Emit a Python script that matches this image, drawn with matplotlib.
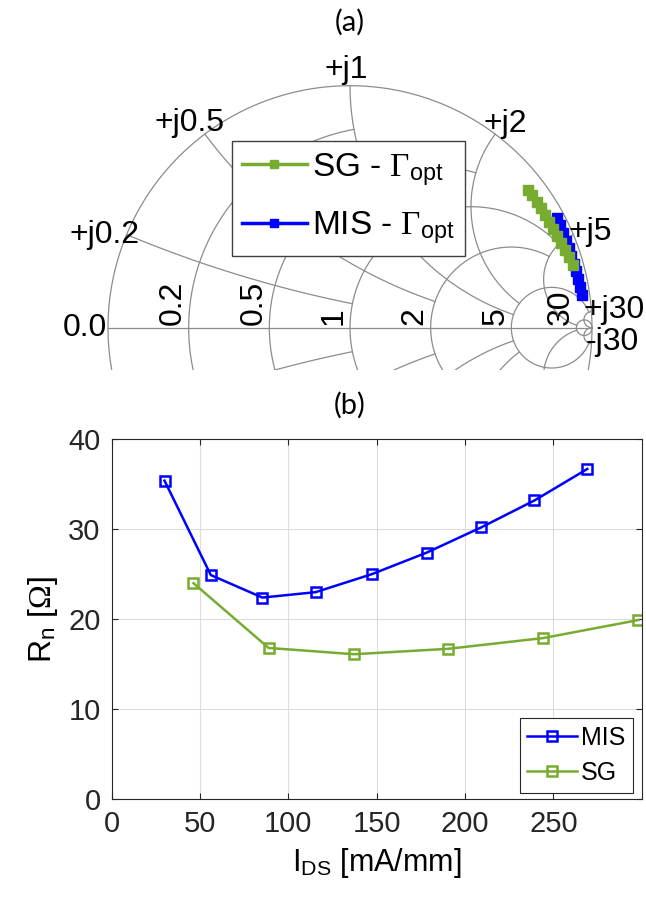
import numpy as np
import matplotlib.pyplot as plt

plt.rcParams['font.family'] = ['Liberation Sans', 'DejaVu Sans']
plt.rcParams['mathtext.fontset'] = 'custom'
plt.rcParams['mathtext.rm'] = 'Liberation Serif'
plt.rcParams['mathtext.it'] = 'Liberation Serif:italic'
plt.rcParams['mathtext.sf'] = 'Liberation Sans'

# (a) optimum source reflection coefficient
sg_gamma_re = [0.736, 0.753, 0.772, 0.790, 0.807, 0.823, 0.839, 0.855, 0.872, 0.888, 0.904, 0.923]
sg_gamma_im = [0.569, 0.547, 0.521, 0.493, 0.466, 0.437, 0.409, 0.380, 0.352, 0.323, 0.294, 0.260]
mis_gamma_re = [0.854, 0.867, 0.880, 0.892, 0.904, 0.915, 0.926, 0.935, 0.944, 0.951, 0.957]
mis_gamma_im = [0.454, 0.423, 0.392, 0.360, 0.329, 0.297, 0.265, 0.233, 0.201, 0.168, 0.134]

# smith grid: circle values and how far each one is drawn
grid_values = [30, 5, 2, 1, 0.5, 0.2]
grid_limits = [np.inf, 30, 5, 5, 2, 1]
r_labels = ['30', '5', '2', '1', '0.5', '0.2']
x_labels = ['+j0.2', '+j0.5', '+j1', '+j2', '+j5', '+j30', '-j30']
x_label_values = [0.2, 0.5, 1, 2, 5, 30, -30]

# (b) noise resistance vs drain current
mis_ids = [29.9, 56.1, 85.3, 115.4, 147.2, 178.3, 209.1, 239.3, 269.2]
mis_rn = [35.4, 24.9, 22.4, 23.0, 25.0, 27.4, 30.2, 33.2, 36.7]
sg_ids = [46.3, 88.8, 137.1, 190.4, 244.4, 298.1]
sg_rn = [24.0, 16.8, 16.1, 16.7, 17.9, 19.9]

GREEN = '#77AC30'
BLUE = '#0000FF'
GRID = '#8c8c8c'
W, H = 646, 905


def gamma(z):
    return (z - 1) / (z + 1)


def sweep(limit, lo):
    if np.isinf(limit):
        t = np.linspace(0 if lo == 0 else -np.pi / 2 + 1e-4, np.pi / 2 - 1e-4, 4000)
        return np.tan(t)
    return np.linspace(lo * limit, limit, 4000)


fig = plt.figure(figsize=(W / 100, H / 100), dpi=100)

# ---------- (a) ----------
cx, cy, R = 350, 327.7, 242.0
top, bot = 30, 370
ax_s = fig.add_axes([0, 1 - bot / H, 1, (bot - top) / H])
ax_s.set_xlim(-cx / R, (W - cx) / R)
ax_s.set_ylim((cy - bot) / R, (cy - top) / R)
ax_s.axis('off')

kw = dict(color=GRID, lw=0.9, zorder=1)
th = np.linspace(0, 2 * np.pi, 800)
ax_s.plot(np.cos(th), np.sin(th), **kw)
ax_s.plot([-1, 1], [0, 0], **kw)
for v, lim in zip(grid_values, grid_limits):
    # resistance circle
    g = gamma(v + 1j * sweep(lim, -1))
    ax_s.plot(g.real, g.imag, **kw)
    # reactance arcs
    for s in (1, -1):
        g = gamma(sweep(lim, 0) + 1j * s * v)
        ax_s.plot(g.real, g.imag, **kw)

for v, lab in zip(grid_values, r_labels):
    ax_s.annotate(lab, ((v - 1) / (v + 1), 0), xytext=(-8, 3),
                  textcoords='offset pixels', rotation=90, rotation_mode='anchor',
                  ha='left', va='baseline', fontsize=23, zorder=2)

x_offsets = [(-22, 0), (-15, 11), (-4, 16), (10, 10), (17, 3), (23, 2), (21, 2)]
for v, lab, off in zip(x_label_values, x_labels, x_offsets):
    g = gamma(1j * v)
    ax_s.annotate(lab, (g.real, g.imag), xytext=off, textcoords='offset pixels',
                  ha='center', va='center', fontsize=23, zorder=2,
                  annotation_clip=False)
ax_s.annotate('0.0', (-1, 0), xytext=(-1, 0), textcoords='offset pixels',
              ha='right', va='center', fontsize=23, annotation_clip=False)

mis_line, = ax_s.plot(mis_gamma_re, mis_gamma_im, '-s', color=BLUE, lw=2.5,
                      ms=6.5, mfc=BLUE, mec=BLUE, zorder=3)
sg_line, = ax_s.plot(sg_gamma_re, sg_gamma_im, '-s', color=GREEN, lw=2.5,
                     ms=6.5, mfc=GREEN, mec=GREEN, zorder=4)
leg = ax_s.legend([sg_line, mis_line],
                  [r'SG - $\Gamma_\mathsf{opt}$', r'MIS - $\Gamma_\mathsf{opt}$'],
                  loc='upper left', bbox_to_anchor=(231.7 / W, 1 - 141 / H),
                  bbox_transform=fig.transFigure, fontsize=24, handlelength=1.95,
                  handletextpad=0.15, borderpad=0.3, labelspacing=0.65,
                  borderaxespad=0, fancybox=False, framealpha=1, markerscale=0.8)
leg.get_frame().set_edgecolor('#404040')
leg.get_frame().set_linewidth(1.0)
leg.set_zorder(5)

fig.text(350 / W, 1 - 22 / H, '(a)', ha='center', va='center', fontsize=21,
         family=['Lato', 'DejaVu Sans'])

# ---------- (b) ----------
l, r, t, b = 111.7, 641.7, 439.3, 799
ax = fig.add_axes([l / W, 1 - b / H, (r - l) / W, (b - t) / H])
ax.plot(mis_ids, mis_rn, '-s', color=BLUE, lw=1.8, ms=7, mfc='none', mew=1.8, label='MIS')
ax.plot(sg_ids, sg_rn, '-s', color=GREEN, lw=1.8, ms=7, mfc='none', mew=1.8, label='SG')
ax.set_xlim(0, 300)
ax.set_ylim(0, 40)
ax.set_xticks([0, 50, 100, 150, 200, 250])
ax.set_yticks([0, 10, 20, 30, 40])
ax.grid(True, color='#dcdcdc', lw=0.8)
ax.set_axisbelow(True)
for sp in ax.spines.values():
    sp.set_color('#262626')
    sp.set_linewidth(0.8)
ax.tick_params(direction='in', length=4, width=0.8, colors='#262626',
               labelsize=21, top=True, right=True, pad=8)
ax.set_xlabel(r'I$_\mathsf{DS}$ [mA/mm]', fontsize=22, labelpad=6)
ax.set_ylabel(r'R$_\mathsf{n}$ [$\Omega$]', fontsize=23, labelpad=6)
lg = ax.legend(loc='lower right', bbox_to_anchor=(633 / W, 1 - 792.7 / H),
               bbox_transform=fig.transFigure, fontsize=18, handlelength=2.0,
               handletextpad=0.15, borderpad=0.3, labelspacing=0.45,
               borderaxespad=0, fancybox=False, framealpha=1)
lg.get_frame().set_edgecolor('#262626')
lg.get_frame().set_linewidth(0.8)

fig.text(350 / W, 1 - 405 / H, '(b)', ha='center', va='center', fontsize=21,
         family=['Lato', 'DejaVu Sans'])

fig.savefig('out.png', dpi=100)
